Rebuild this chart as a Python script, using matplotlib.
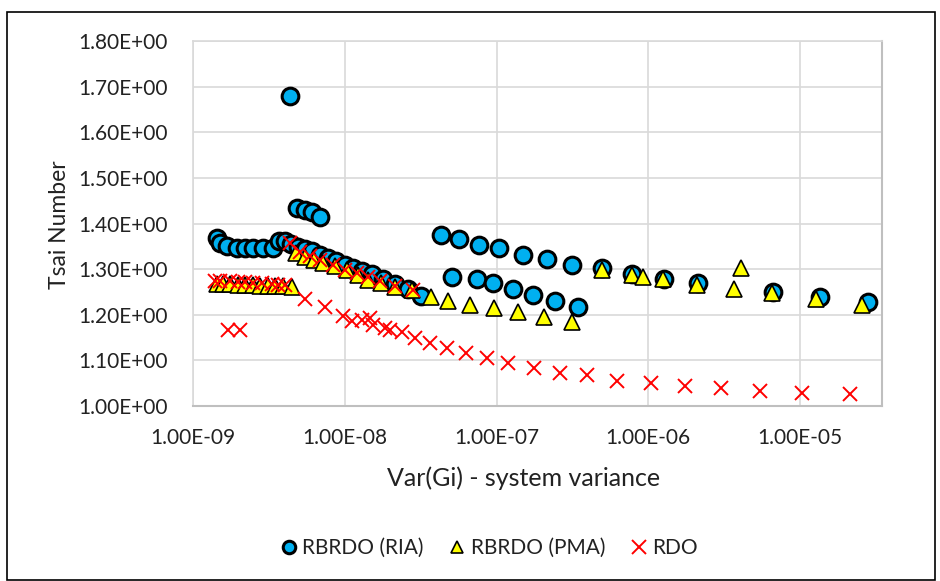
import matplotlib
matplotlib.use("Agg")
import matplotlib.pyplot as plt
from matplotlib.patches import Rectangle
from matplotlib.ticker import FuncFormatter, NullLocator

plt.rcParams["font.family"] = ["Lato", "DejaVu Sans"]

# ---- data ----
ria_x = [1.44e-9, 1.51e-9, 1.67e-9, 1.95e-9, 2.20e-9, 2.49e-9, 2.89e-9, 3.37e-9, 3.69e-9, 4.04e-9,
         4.36e-9, 4.84e-9, 5.47e-9, 6.08e-9, 6.87e-9,
         4.42e-9, 4.92e-9, 5.47e-9, 6.08e-9, 6.87e-9, 7.76e-9, 8.75e-9, 1.00e-8, 1.13e-8, 1.30e-8,
         1.51e-8, 1.79e-8, 2.14e-8, 2.61e-8, 3.18e-8,
         5.09e-8, 7.44e-8, 9.48e-8, 1.28e-7, 1.74e-7, 2.43e-7, 3.44e-7,
         4.31e-8, 5.66e-8, 7.67e-8, 1.04e-7, 1.50e-7, 2.15e-7, 3.15e-7, 4.96e-7, 7.82e-7, 1.27e-6,
         2.13e-6, 6.64e-6, 1.36e-5, 2.81e-5]
ria_y = [1.368, 1.357, 1.351, 1.346, 1.346, 1.346, 1.346, 1.346, 1.362, 1.362,
         1.680, 1.434, 1.430, 1.425, 1.414,
         1.355, 1.349, 1.344, 1.340, 1.331, 1.325, 1.318, 1.309, 1.303, 1.296,
         1.289, 1.279, 1.268, 1.257, 1.241,
         1.283, 1.279, 1.270, 1.257, 1.243, 1.230, 1.217,
         1.375, 1.366, 1.353, 1.346, 1.331, 1.322, 1.309, 1.303, 1.289, 1.279,
         1.270, 1.250, 1.239, 1.228]

pma_x = [1.44e-9, 1.58e-9, 1.75e-9, 1.98e-9, 2.20e-9, 2.49e-9, 2.76e-9, 3.12e-9, 3.47e-9, 3.92e-9, 4.49e-9,
         4.77e-9, 5.47e-9, 6.27e-9, 7.19e-9, 8.63e-9, 1.04e-8, 1.22e-8, 1.42e-8, 1.73e-8, 2.14e-8, 2.77e-8,
         3.70e-8, 4.79e-8, 6.69e-8, 9.63e-8, 1.39e-7, 2.06e-7, 3.15e-7,
         4.96e-7, 7.82e-7, 9.23e-7, 1.25e-6, 2.09e-6, 4.08e-6, 3.67e-6, 6.53e-6, 1.27e-5, 2.56e-5]
pma_y = [1.268, 1.268, 1.267, 1.266, 1.266, 1.265, 1.264, 1.263, 1.262, 1.262, 1.261,
         1.336, 1.327, 1.320, 1.314, 1.307, 1.298, 1.287, 1.276, 1.270, 1.261, 1.254,
         1.239, 1.230, 1.221, 1.215, 1.206, 1.195, 1.184,
         1.298, 1.287, 1.283, 1.279, 1.265, 1.303, 1.257, 1.248, 1.235, 1.221]

rdo_x = [1.40e-9, 1.51e-9, 1.75e-9, 1.98e-9, 2.20e-9, 2.49e-9, 2.85e-9, 3.32e-9, 3.63e-9, 4.04e-9,
         1.70e-9, 2.04e-9,
         4.36e-9, 5.07e-9, 5.90e-9, 6.87e-9, 8.37e-9, 1.00e-8, 1.20e-8, 1.42e-8, 1.71e-8, 2.14e-8, 2.82e-8,
         5.47e-9, 7.41e-9, 9.73e-9, 1.12e-8, 1.30e-8, 1.47e-8, 1.54e-8, 1.84e-8, 1.99e-8, 2.38e-8,
         2.90e-8, 3.65e-8, 4.72e-8, 6.30e-8, 8.65e-8, 1.19e-7, 1.77e-7, 2.62e-7, 3.95e-7, 6.22e-7,
         1.04e-6, 1.75e-6, 3.01e-6, 5.45e-6, 1.03e-5, 2.13e-5]
rdo_y = [1.275, 1.274, 1.273, 1.272, 1.271, 1.270, 1.269, 1.268, 1.266, 1.265,
         1.167, 1.167,
         1.357, 1.338, 1.329, 1.320, 1.309, 1.298, 1.292, 1.283, 1.274, 1.263, 1.254,
         1.235, 1.217, 1.197, 1.186, 1.189, 1.193, 1.178, 1.171, 1.167, 1.162,
         1.149, 1.138, 1.127, 1.116, 1.105, 1.094, 1.083, 1.072, 1.068, 1.055,
         1.050, 1.044, 1.039, 1.033, 1.029, 1.026]

x_ticks = [1e-9, 1e-8, 1e-7, 1e-6, 1e-5]
y_ticks = [1.0, 1.1, 1.2, 1.3, 1.4, 1.5, 1.6, 1.7, 1.8]


def sci(v, pos=None):
    return f"{v:.2E}"


fig = plt.figure(figsize=(9.4, 5.81), dpi=100)
ax = fig.add_axes([193 / 940, 1 - 406 / 581, (882 - 193) / 940, (406 - 41) / 581])

ax.plot(ria_x, ria_y, ls="none", marker="o", ms=12, mfc="#00B0F0", mec="black", mew=2.2,
        label="RBRDO (RIA)", zorder=3)
ax.plot(pma_x, pma_y, ls="none", marker="^", ms=12, mfc="#FFFF00", mec="black", mew=1.2,
        label="RBRDO (PMA)", zorder=4)
ax.plot(rdo_x, rdo_y, ls="none", marker="x", ms=10, mec="#FF0000", mew=1.4,
        label="RDO", zorder=5)

ax.set_xscale("log")
ax.set_xlim(1e-9, 10 ** (-9 + (882 - 193) / 151.75))
ax.set_ylim(1.0, 1.8)
ax.set_xticks(x_ticks)
ax.xaxis.set_minor_locator(NullLocator())
ax.set_yticks(y_ticks)
ax.xaxis.set_major_formatter(FuncFormatter(sci))
ax.yaxis.set_major_formatter(FuncFormatter(sci))
ax.tick_params(axis="y", length=0, labelsize=15, labelcolor="#222222", pad=18)
ax.tick_params(axis="x", length=0, labelsize=15, labelcolor="#222222", pad=16)

ax.grid(True, color="#d9d9d9", lw=1.2)
ax.set_axisbelow(True)
for side in ["top", "left"]:
    ax.spines[side].set_color("#d9d9d9")
    ax.spines[side].set_linewidth(1.2)
for side in ["bottom", "right"]:
    ax.spines[side].set_color("#bfbfbf")
    ax.spines[side].set_linewidth(1.5)

fig.text(60 / 940, 1 - 225 / 581, "Tsai Number", rotation=90, ha="center", va="center",
         fontsize=16.5, color="#222222")
fig.text(524 / 940, 1 - 478 / 581, "Var(Gi) - system variance", ha="center", va="center",
         fontsize=18, color="#222222")

leg = fig.legend(loc="center", bbox_to_anchor=(487 / 940, 1 - 548 / 581), ncol=3, frameon=False,
                 fontsize=15, handletextpad=0.05, columnspacing=1.0, markerscale=0.75,
                 handlelength=1.2)
leg.legend_handles[2].set_markersize(9.5)
for t in leg.get_texts():
    t.set_color("#222222")

fig.patches.append(Rectangle((7 / 940, 1 / 581), 928 / 940, 568 / 581, transform=fig.transFigure,
                             fill=False, ec="black", lw=1.2))

fig.savefig("out.png", dpi=100)
